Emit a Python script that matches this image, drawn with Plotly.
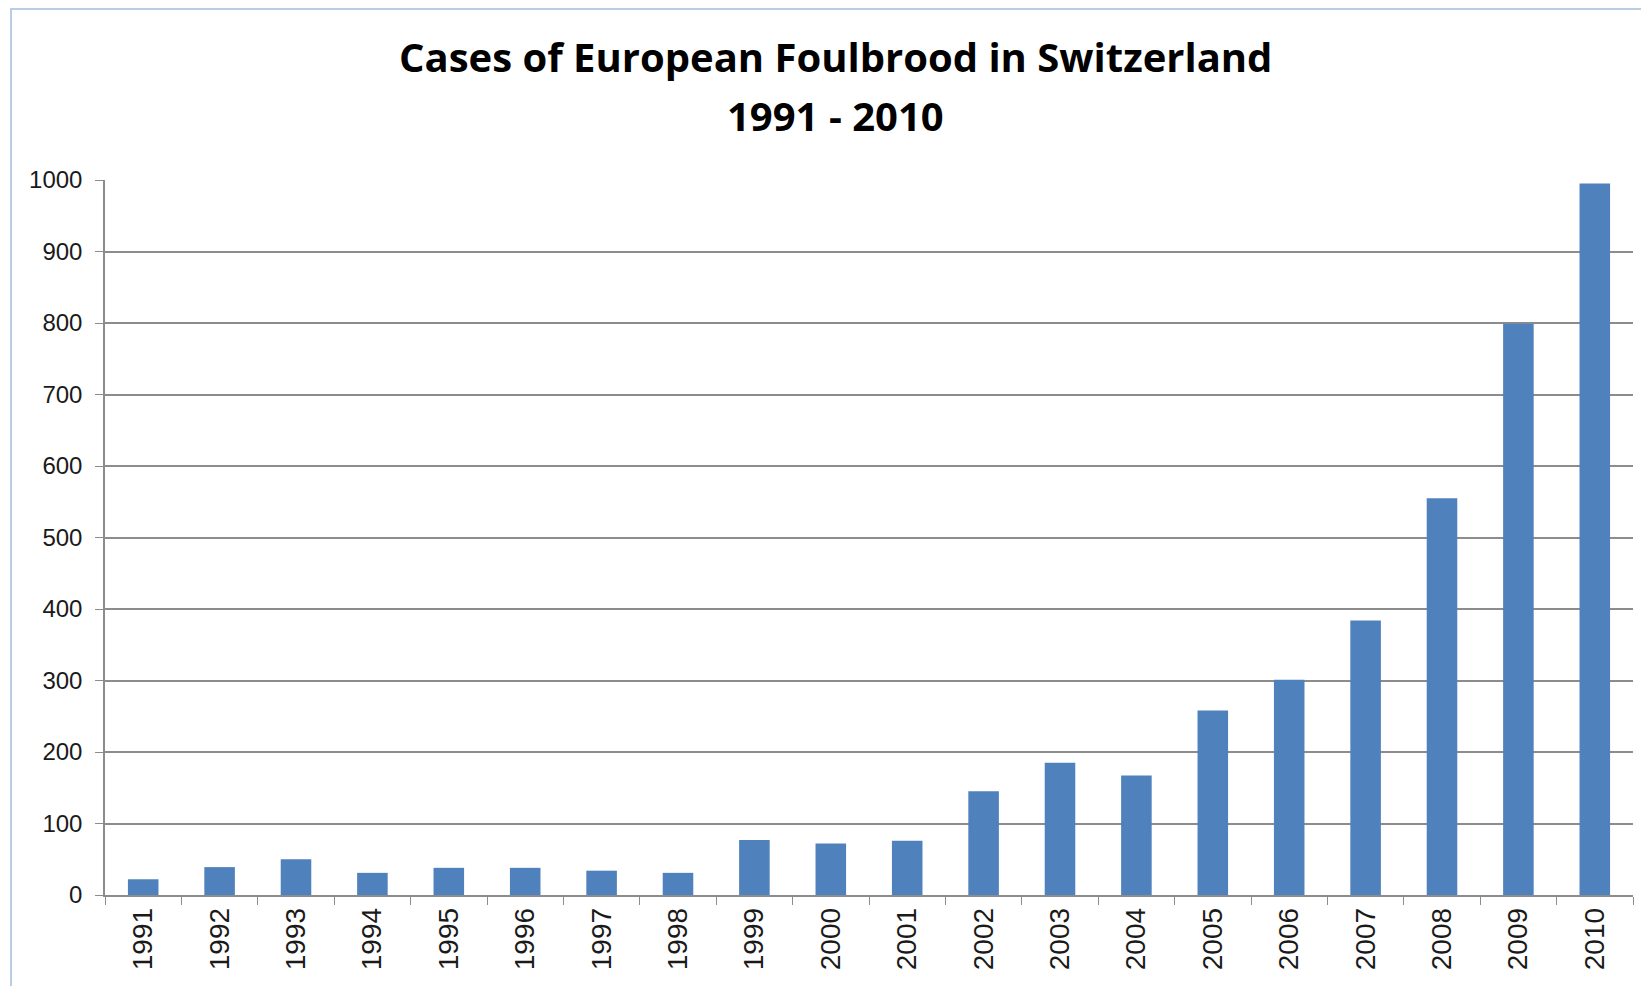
import plotly.graph_objects as go

years = [str(y) for y in range(1991, 2011)]
cases = [22, 39, 50, 31, 38, 38, 34, 31, 77, 72, 76, 145, 185, 167, 258, 301, 384, 555, 799, 995]
y_ticks = list(range(0, 1001, 100))
title_lines = ["Cases of European Foulbrood in Switzerland", "1991 - 2010"]

# page has an 8px body margin, so the figure is a bit smaller and offset
W, H = 1641, 978
L, R, T, B = 97, 16, 172, 91
pw, ph = W - L - R, H - T - B

fig = go.Figure(go.Bar(x=years, y=cases, marker=dict(color="#4F81BD", line=dict(width=0)), width=0.4))

grid_col = "#8C8C8C"
fig.update_layout(
    width=W, height=H,
    margin=dict(l=L, r=R, t=T, b=B),
    plot_bgcolor="white", paper_bgcolor="white",
    showlegend=False,
    font=dict(family="Liberation Sans, Arial, sans-serif", size=22, color="#1a1a1a"),
)
title_font = dict(family="Open Sans, Liberation Sans, sans-serif", size=40, color="black")
for line, fy in zip(title_lines, [49, 107]):
    fig.add_annotation(
        text="<b>%s</b>" % line, xref="paper", yref="paper",
        x=(827 - L) / pw, y=1 + (T - fy) / ph, xanchor="center", yanchor="middle",
        showarrow=False, font=title_font,
    )
fig.update_yaxes(
    range=[0, 1000], tickvals=y_ticks, showgrid=True, gridcolor=grid_col, gridwidth=1.5,
    showline=True, linecolor=grid_col, linewidth=1.5, ticks="outside", ticklen=8, tickcolor=grid_col,
    zeroline=False, tickfont=dict(size=24), ticklabelstandoff=8,
)
fig.update_xaxes(
    type="category", showline=True, linecolor=grid_col, linewidth=1.5,
    ticks="outside", ticklen=8, tickcolor=grid_col, tickson="boundaries",
    tickangle=-90, tickfont=dict(size=28), showgrid=False,
)
# outer chart border (light blue)
fig.add_shape(type="rect", xref="paper", yref="paper",
              x0=(3 - L) / pw, x1=(W + 20 - L) / pw,
              y0=-(B + 20) / ph, y1=1 + (T - 1) / ph,
              line=dict(color="#B9CDE5", width=2), layer="below")

fig.write_html("out.html")
